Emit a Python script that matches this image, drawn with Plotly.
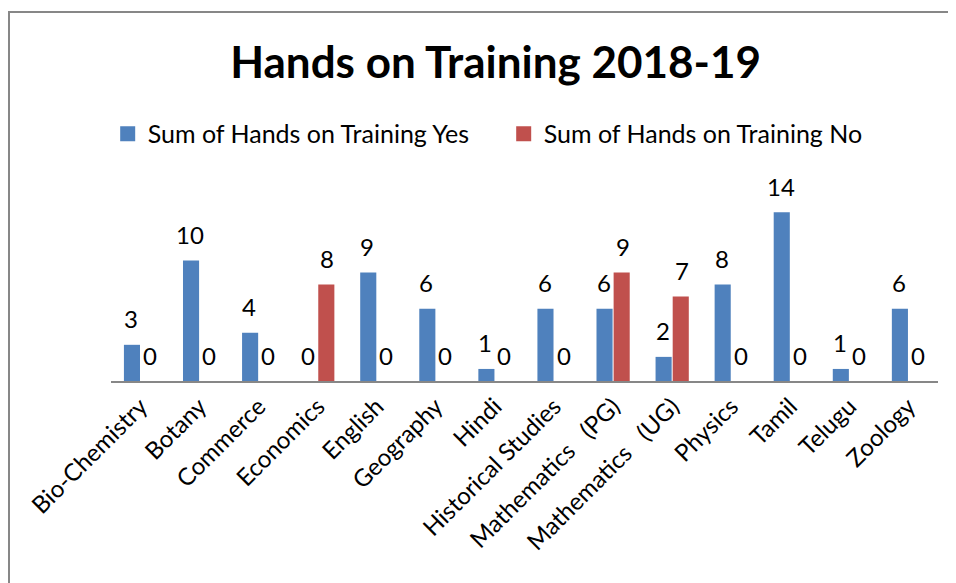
import plotly.graph_objects as go

categories = ["Bio-Chemistry", "Botany", "Commerce", "Economics", "English", "Geography",
              "Hindi", "Historical Studies", "Mathematics   (PG)", "Mathematics   (UG)",
              "Physics", "Tamil", "Telugu", "Zoology"]
yes_vals = [3, 10, 4, 0, 9, 6, 1, 6, 6, 2, 8, 14, 1, 6]
no_vals = [0, 0, 0, 8, 0, 0, 0, 0, 9, 7, 0, 0, 0, 0]
series_names = ["Sum of Hands on Training Yes", "Sum of Hands on Training No"]
colors = ["#4F81BD", "#C0504D"]

FONT = "Lato, Carlito, 'Open Sans', sans-serif"
FS = 24

fig = go.Figure()
for name, vals, col in zip(series_names, [yes_vals, no_vals], colors):
    fig.add_trace(go.Bar(name=name, x=categories, y=vals, showlegend=False,
                         marker=dict(color=col, line=dict(width=0))))
for name, col in zip(series_names, colors):
    fig.add_trace(go.Scatter(name=name, x=[None], y=[None], mode="markers",
                             marker=dict(symbol="square", size=15, color=col)))

annotations = []
for vals, dx in zip([yes_vals, no_vals], [-9.5, 9.5]):
    for c, v in zip(categories, vals):
        annotations.append(dict(x=c, y=v, text=str(v), showarrow=False, xshift=dx,
                                yshift=26, yanchor="middle", xanchor="center",
                                font=dict(size=FS, color="black", family=FONT)))

fig.update_layout(
    width=956, height=583,
    margin=dict(l=103, r=26, t=180, b=210, autoexpand=False),
    paper_bgcolor="white", plot_bgcolor="white",
    font=dict(family=FONT, size=FS, color="black"),
    barmode="group", bargap=0.42, bargroupgap=0.06,
    title=dict(text="<b>Hands on Training 2018-19</b>", x=0.51, xanchor="center",
               y=1 - 55 / 583, yanchor="middle", font=dict(size=44, color="black", family=FONT)),
    legend=dict(orientation="h", x=-0.004, xanchor="left",
                y=1.28, yanchor="middle", font=dict(size=25), entrywidth=351,
                itemwidth=30),
    annotations=annotations,
    shapes=[dict(type="rect", xref="paper", yref="paper",
                 x0=(1 - 103) / 827, x1=1.2, y0=-1.5, y1=(373 - 4) / 193,
                 line=dict(color="#878787", width=2), fillcolor="rgba(0,0,0,0)", layer="below")],
)
fig.update_xaxes(showline=True, linecolor="#878787", linewidth=2, tickangle=-45,
                 ticks="", tickfont=dict(size=FS, color="black"), showgrid=False,
                 automargin=False)
fig.update_yaxes(range=[0, 16], visible=False, showgrid=False, automargin=False)

fig.write_html("out.html")
